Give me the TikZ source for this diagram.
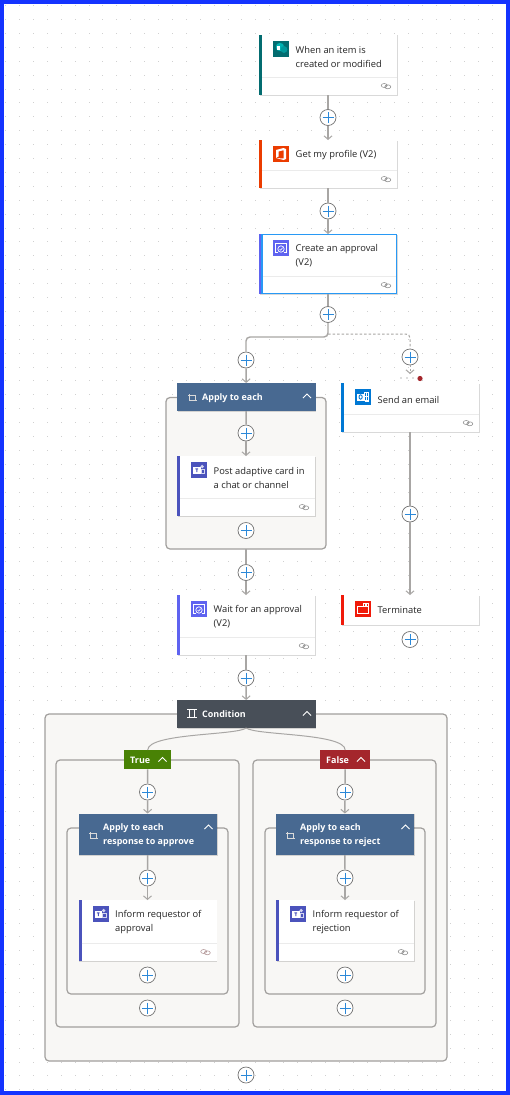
\documentclass[tikz,border=0pt]{standalone}
\usepackage{fontspec}
\setmainfont{Open Sans}
\usetikzlibrary{arrows.meta,shadows}
\definecolor{frameblue}{HTML}{1433FF}
\definecolor{griddot}{HTML}{D0D0D0}
\definecolor{wire}{HTML}{A8A6A4}
\definecolor{scopefill}{HTML}{F8F7F5}
\definecolor{scopeline}{HTML}{A19F9D}
\definecolor{inktext}{HTML}{242424}
\definecolor{plusblue}{HTML}{2B88D8}
\definecolor{pickblue}{HTML}{2899F5}
\definecolor{loopblue}{HTML}{486991}
\definecolor{condgrey}{HTML}{484F58}
\definecolor{truegreen}{HTML}{498205}
\definecolor{falsered}{HTML}{A4262C}
\definecolor{spteal}{HTML}{036C70}
\definecolor{officeorange}{HTML}{EB3C00}
\definecolor{approvalviolet}{HTML}{5F63F0}
\definecolor{teamsindigo}{HTML}{4B53BC}
\definecolor{mailblue}{HTML}{0078D4}
\definecolor{stopred}{HTML}{F01A0A}
\tikzset{
  card/.style={anchor=north west,fill=white,inner sep=0pt,outer sep=0pt,minimum width=138pt,
    drop shadow={shadow xshift=0.6pt,shadow yshift=-0.8pt,opacity=0.15,fill=black}},
  cardtext/.style={anchor=west,align=left,inner sep=0pt,text=inktext,font=\fontsize{9.35}{14}\selectfont},
  headbar/.style={anchor=north west,inner sep=0pt,outer sep=0pt,minimum width=138.5pt,
    drop shadow={shadow xshift=0.6pt,shadow yshift=-0.8pt,opacity=0.15,fill=black}},
  headtext/.style={anchor=west,align=left,inner sep=0pt,text=white,font=\fontsize{8.95}{14}\selectfont\bfseries},
  icon/.style={minimum size=16pt,inner sep=0pt,outer sep=0pt},
  frame/.style={draw=scopeline,fill=scopefill,line width=1.2pt,rounded corners=4pt},
  plusbtn/.style={circle,draw=black!55,fill=white,line width=0.7pt,minimum size=16pt,inner sep=0pt,
    path picture={\draw[plusblue,line width=1pt] (path picture bounding box.center) +(-5.5,0) -- +(5.5,0)
      (path picture bounding box.center) +(0,-5.5) -- +(0,5.5);}},
  wireline/.style={draw=wire,line width=1.4pt},
  wirearrow/.style={wireline,-{Straight Barb[length=3.5pt,width=8pt,line width=1pt]}},
  chev/.style={draw=white,line width=0.8pt},
  glyph/.style={draw=white,line width=0.8pt}
}
\newcommand{\chevup}[2]{\draw[chev] (#1-4,#2+2.5) -- (#1,#2-1.5) -- (#1+4,#2+2.5);}
\newcommand{\loopmark}[2]{\draw[glyph,white!85!black,line width=0.7pt] (#1-4,#2-1.5) -- (#1+3.5,#2-1.5) -- (#1+3.5,#2+3.5) (#1+4.5,#2+3.5) -- (#1-3,#2+3.5) -- (#1-3,#2-3);}
\begin{document}
\begin{tikzpicture}[x=1pt,y=-1pt]
\useasboundingbox (0,0) rectangle (510,1095);
\fill[white] (0,0) rectangle (510,1095);
% canvas dots
\foreach \i in {0,...,36}
  \foreach \j in {0,...,78}
    \fill[griddot] ({round(5.2+13.9*\i)},{round(5.2+13.9*\j)}) rectangle +(1,1);
% scopes, outer first
\draw[frame] (166,397.5) rectangle (326,549);
\draw[frame] (45,714) rectangle (447,1061);
\draw[frame] (56,760) rectangle (239,1027);
\draw[frame] (253,760) rectangle (436,1027);
\draw[frame] (67,828) rectangle (228,994);
\draw[frame] (265,828) rectangle (425,994);
\node[draw=none,inner sep=0pt,minimum size=0pt] (loopscope) at (246,549) {};
% action cards
\foreach \nm/\xa/\ya/\hh/\ty/\col/\txt in {
  trigger/259/34.5/60.5/22/spteal/{When an item is\\created or modified},
  profile/259/140/48/15.5/officeorange/{Get my profile (V2)},
  create/259/234/60/22/approvalviolet/{Create an approval\\(V2)},
  postcard/177/456/60/22/teamsindigo/{Post adaptive card in\\a chat or channel},
  sendmail/341/383/49/16.5/mailblue/{Send an email},
  waitfor/177/595/60/22/approvalviolet/{Wait for an approval\\(V2)},
  stopflow/341/595/30/15.5/stopred/{Terminate},
  informyes/78.5/900/61/22/teamsindigo/{Inform requestor of\\approval},
  informno/276/900/61/22/teamsindigo/{Inform requestor of\\rejection}}{
  \node[card,minimum height=\hh pt] (\nm) at (\xa,\ya) {};
  \fill[\col] (\nm.north west) rectangle ([xshift=3pt]\nm.south west);
  \node[cardtext] (\nm-t) at (\xa+36.5,\ya+\ty) {\txt};
  \node[icon,fill=\col] (\nm-i) at (\xa+22,\ya+14) {};
}
\foreach \nm/\lk in {trigger/black!45,profile/black!45,create/black!45,postcard/black!45,sendmail/black!45,waitfor/black!45,informyes/falsered!50!black!45,informno/black!45}{
  \draw[black!8,line width=0.7pt] ([xshift=3pt,yshift=18pt]\nm.south west) -- ([yshift=18pt]\nm.south east);
  \draw[\lk,line width=0.55pt,shift={([xshift=-11pt,yshift=9pt]\nm.south east)}] (-1.8,-0.5) ellipse (3 and 2) (1.8,0.8) ellipse (3 and 2);
}
\draw[pickblue,line width=1.5pt] ([xshift=3pt]create.north west) ++(0,0.7) rectangle ([xshift=-0.7pt,yshift=0.7pt]create.south east);
% icon glyphs
\begin{scope}[shift={(trigger-i.center)}]
  \fill[teal!60!cyan] (-1,-1.5) circle (4.2);
  \fill[spteal!70!cyan] (3,1) circle (3.4);
  \fill[white] (-4.5,-2.5) rectangle (-1.5,1.5);
\end{scope}
\begin{scope}[shift={(profile-i.center)}]
  \fill[white] (-5,-4) -- (2.5,-6) -- (5,-5) -- (5,5) -- (2.5,6) -- (-5,4) -- (2.5,4.5) -- (2.5,-3.8) -- (-2.5,-2.5) -- (-2.5,2.5) -- (-5,4) -- cycle;
\end{scope}
\foreach \nm in {create-i,waitfor-i}{
\begin{scope}[shift={(\nm.center)}]
  \draw[glyph,line width=0.6pt] (-3,4) -- (-5.5,4) -- (-5.5,-4.5) -- (5.5,-4.5) -- (5.5,4) -- (3,4);
  \draw[glyph,line width=0.7pt] (0,1) circle (3.2);
  \draw[glyph,line width=0.6pt] (-1.5,1) -- (-0.3,2.2) -- (1.6,-0.3);
\end{scope}}
\foreach \nm in {postcard-i,informyes-i,informno-i}{
\begin{scope}[shift={(\nm.center)}]
  \fill[white] (-6,-3.5) rectangle (1.5,3.5);
  \fill[teamsindigo] (-3.6,-1.6) rectangle (-0.8,-0.6) (-2.7,-1.6) rectangle (-1.7,2);
  \fill[white!75!teamsindigo] (3.2,-3.5) circle (1.8);
  \draw[white!75!teamsindigo,line width=0.8pt] (2.3,-1) rectangle (5.6,3) ;
\end{scope}}
\begin{scope}[shift={(sendmail-i.center)}]
  \fill[white] (-6,-3.5) rectangle (1.2,3.5);
  \draw[mailblue,line width=0.9pt] (-2.4,0) ellipse (1.6 and 2.2);
  \draw[white,line width=0.6pt] (1.5,-5) rectangle (5.5,-1) (1.5,-1) rectangle (5.5,3) (3.5,-5) -- (3.5,3) (1.5,4.5) -- (5.5,4.5);
\end{scope}
\begin{scope}[shift={(stopflow-i.center)}]
  \draw[glyph] (-5.5,-2.5) rectangle (5,4.5);
  \draw[glyph] (0.5,-2.5) rectangle (5,-5.5);
  \fill[white] (1.6,-4.8) rectangle (3.8,-3.2);
\end{scope}
% scope headers
\node[headbar,fill=loopblue,minimum height=28pt] (eachcard) at (177,383) {};
\node[headtext] (eachcard-t) at (202,398) {Apply to each};
\loopmark{192}{397}
\chevup{307}{395.5}
\node[headbar,fill=condgrey,minimum height=28pt] (condition) at (177,700) {};
\node[headtext] (condition-t) at (202,714.5) {Condition};
\draw[glyph,line width=1pt] (187,709.5) -- (196.5,709.5) (187,717.5) -- (196.5,717.5);
\draw[glyph,line width=0.8pt] (189,709.5) -- (189,717.5) (194.5,709.5) -- (194.5,717.5);
\chevup{307}{713}
\foreach \nm/\xa/\txt in {
  eachyes/78.5/{Apply to each\\response to approve},
  eachno/275.5/{Apply to each\\response to reject}}{
  \node[headbar,fill=loopblue,minimum height=41.5pt] (\nm) at (\xa,813.5) {};
  \node[headtext] (\nm-t) at (\xa+24.5,835.5) {\txt};
  \loopmark{\xa+14.5}{835}
  \chevup{\xa+130}{826.5}
}
% branch labels
\node[anchor=north west,fill=truegreen,inner sep=0pt,minimum width=47pt,minimum height=19pt] (branchyes) at (124,750) {};
\node[headtext] (branchyes-t) at (130,760.5) {True};
\chevup{162.5}{759}
\node[anchor=north west,fill=falsered,inner sep=0pt,minimum width=50pt,minimum height=19pt] (branchno) at (320,750) {};
\node[headtext] (branchno-t) at (326,760.5) {False};
\chevup{361}{759}
% add buttons
\foreach \nm/\xa/\ya in {
  addA/328/117.5,addB/328/211,addC/328/314.5,addD/246/360,addE/410/357,
  addF/246/433,addG/246/530.5,addH/246/572.5,addI/410/514,addJ/410/639.5,
  addK/246/678,addL/246/1075,
  addM/147.5/792,addN/147.5/878,addO/147.5/975,addP/147.5/1008,
  addQ/345/792,addR/345/878,addS/345/975,addT/345/1008}{
  \node[plusbtn] (\nm) at (\xa,\ya) {};
}
% connectors
\draw[wireline] (trigger) -- (addA);
\draw[wirearrow] (addA) -- (profile);
\draw[wireline] (profile) -- (addB);
\draw[wirearrow] (addB) -- (create);
\draw[wireline] (create) -- (addC);
\coordinate (turnA) at (328,337);
\coordinate (turnB) at (328,334);
\coordinate (mailin) at (410,374);
\draw[wireline,rounded corners=4pt] (addC) -- (turnA) -| (addD);
\draw[wirearrow] (addD) -- (eachcard);
\draw[wireline,line width=1pt,dash pattern=on 2.5pt off 2pt,rounded corners=4pt] (turnB) -| (addE);
\draw[wirearrow,line width=1pt,dash pattern=on 2pt off 1.5pt] (addE) -- (mailin);
\foreach \xa in {401,407,413} \fill[black!55] (\xa,378) circle (0.7);
\fill[falsered] (420,378.5) circle (2.6);
\draw[wireline] (eachcard) -- (addF);
\draw[wirearrow] (addF) -- (postcard);
\draw[wireline] (sendmail) -- (addI);
\draw[wirearrow] (addI) -- (stopflow);
\draw[wireline] (loopscope) -- (addH);
\draw[wirearrow] (addH) -- (waitfor);
\draw[wireline] (waitfor) -- (addK);
\draw[wirearrow] (addK) -- (condition);
\draw[wire,line width=1pt] (condition.south) .. controls (236,735.5) and (148,733) .. (branchyes.north);
\draw[wire,line width=1pt] (condition.south) .. controls (256,735.5) and (345,733) .. (branchno.north);
\foreach \lab/\ab/\head/\ac in {branchyes/addM/eachyes/addN,branchno/addQ/eachno/addR}{
  \draw[wireline] (\lab) -- (\ab);
  \draw[wirearrow] (\ab) -- (\head);
  \draw[wireline] (\head) -- (\ac);
}
\draw[wirearrow] (addN) -- (informyes);
\draw[wirearrow] (addR) -- (informno);
% outer frame
\draw[frameblue,line width=4pt] (2,2) rectangle (508,1093);
\end{tikzpicture}
\end{document}
